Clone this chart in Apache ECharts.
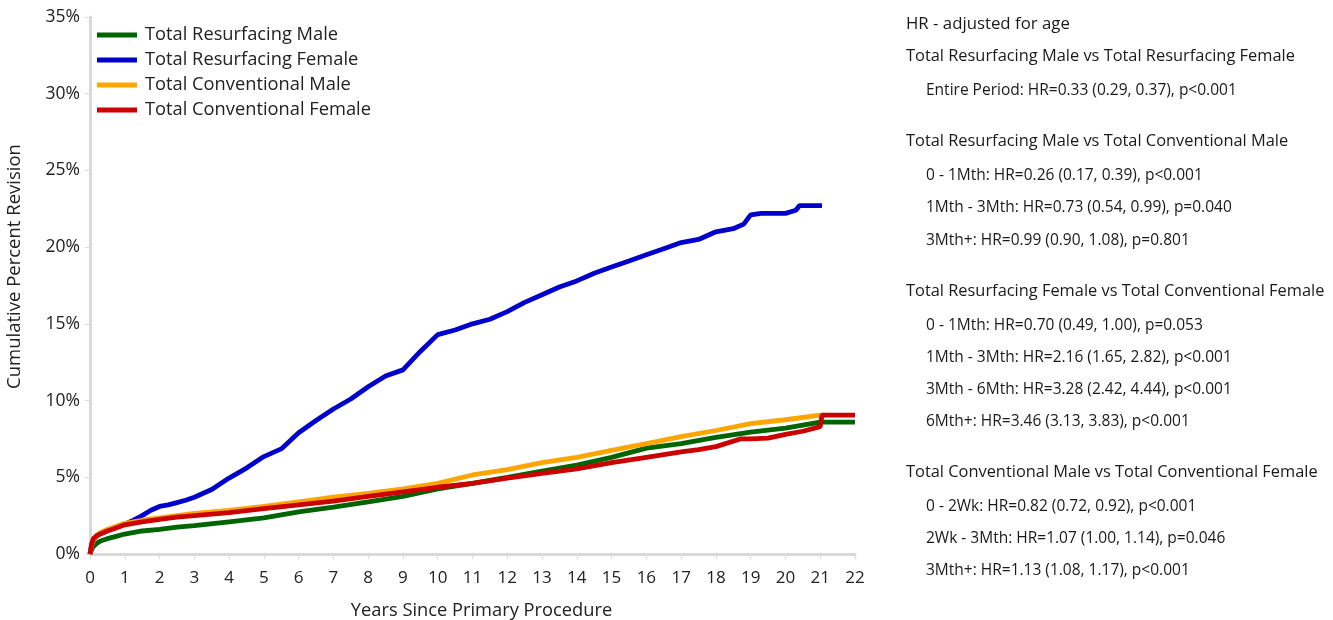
<!DOCTYPE html>
<html>
<head>
<meta charset="utf-8">
<script src="https://cdn.jsdelivr.net/npm/echarts@6/dist/echarts.min.js"></script>
<style>
html,body{margin:0;padding:0;background:#fff;}
#chart{width:1333px;height:620px;}
</style>
</head>
<body>
<div id="chart"></div>
<script>
// ---- Data (years since primary procedure, cumulative percent revision) ----
const seriesNames = ["Total Resurfacing Male", "Total Resurfacing Female", "Total Conventional Male", "Total Conventional Female"];

const resMaleX = [0, 0.05, 0.1, 0.2, 0.3, 0.5, 0.75, 1, 1.5, 2, 2.5, 3, 4, 5, 6, 7, 8, 9, 10, 11, 12, 13, 14, 15, 16, 17, 18, 19, 20, 20.5, 21, 21.1, 22];
const resMaleY = [0, 0.3, 0.5, 0.7, 0.85, 1.0, 1.15, 1.3, 1.5, 1.6, 1.75, 1.85, 2.1, 2.35, 2.75, 3.05, 3.4, 3.75, 4.25, 4.6, 5.0, 5.4, 5.8, 6.3, 6.9, 7.2, 7.6, 7.95, 8.2, 8.4, 8.6, 8.6, 8.6];

const resFemaleX = [0, 0.05, 0.1, 0.2, 0.3, 0.5, 0.75, 1, 1.25, 1.5, 1.75, 2, 2.25, 2.5, 2.75, 3, 3.5, 4, 4.5, 5, 5.5, 6, 6.5, 7, 7.5, 8, 8.5, 9, 9.5, 10, 10.5, 11, 11.5, 12, 12.5, 13, 13.5, 14, 14.5, 15, 15.5, 16, 16.5, 17, 17.5, 18, 18.5, 18.8, 19.0, 19.3, 20.0, 20.3, 20.4, 21.05];
const resFemaleY = [0, 0.6, 0.9, 1.2, 1.35, 1.55, 1.75, 1.95, 2.2, 2.5, 2.85, 3.1, 3.2, 3.35, 3.5, 3.7, 4.2, 4.95, 5.6, 6.35, 6.85, 7.9, 8.7, 9.45, 10.1, 10.9, 11.6, 12.0, 13.2, 14.3, 14.6, 15.0, 15.3, 15.8, 16.4, 16.9, 17.4, 17.8, 18.3, 18.7, 19.1, 19.5, 19.9, 20.3, 20.5, 21.0, 21.2, 21.5, 22.1, 22.2, 22.2, 22.4, 22.7, 22.7];

const convMaleX = [0, 0.05, 0.1, 0.2, 0.3, 0.5, 0.75, 1, 1.5, 2, 2.5, 3, 4, 5, 6, 7, 8, 9, 10, 11, 12, 13, 14, 15, 16, 17, 18, 19, 20, 21, 21.15];
const convMaleY = [0, 0.6, 0.9, 1.2, 1.4, 1.6, 1.8, 2.0, 2.2, 2.35, 2.5, 2.65, 2.85, 3.1, 3.4, 3.7, 3.95, 4.25, 4.6, 5.15, 5.5, 5.95, 6.3, 6.75, 7.2, 7.65, 8.05, 8.5, 8.75, 9.05, 9.05];

const convFemaleX = [0, 0.05, 0.1, 0.2, 0.3, 0.5, 0.75, 1, 1.5, 2, 2.5, 3, 4, 5, 6, 7, 8, 9, 10, 11, 12, 13, 14, 15, 16, 17, 17.5, 18, 18.7, 19, 19.5, 20, 20.5, 21, 21.05, 22];
const convFemaleY = [0, 0.7, 1.0, 1.2, 1.3, 1.5, 1.7, 1.9, 2.1, 2.25, 2.4, 2.5, 2.7, 2.95, 3.2, 3.45, 3.75, 4.05, 4.35, 4.6, 4.95, 5.25, 5.55, 5.95, 6.3, 6.65, 6.8, 7.0, 7.5, 7.5, 7.55, 7.8, 8.0, 8.3, 9.05, 9.05];

const xTicks = {min: 0, max: 22, interval: 1};
const yTicks = {min: 0, max: 35, interval: 5};

const hrLines = [
  {text: "HR - adjusted for age", kind: "note", y: 22},
  {text: "Total Resurfacing Male vs Total Resurfacing Female", kind: "head", y: 55},
  {text: "Entire Period: HR=0.33 (0.29, 0.37), p<0.001", kind: "item", y: 88},
  {text: "Total Resurfacing Male vs Total Conventional Male", kind: "head", y: 140},
  {text: "0 - 1Mth: HR=0.26 (0.17, 0.39), p<0.001", kind: "item", y: 173},
  {text: "1Mth - 3Mth: HR=0.73 (0.54, 0.99), p=0.040", kind: "item", y: 205},
  {text: "3Mth+: HR=0.99 (0.90, 1.08), p=0.801", kind: "item", y: 238},
  {text: "Total Resurfacing Female vs Total Conventional Female", kind: "head", y: 290},
  {text: "0 - 1Mth: HR=0.70 (0.49, 1.00), p=0.053", kind: "item", y: 323},
  {text: "1Mth - 3Mth: HR=2.16 (1.65, 2.82), p<0.001", kind: "item", y: 355},
  {text: "3Mth - 6Mth: HR=3.28 (2.42, 4.44), p<0.001", kind: "item", y: 387},
  {text: "6Mth+: HR=3.46 (3.13, 3.83), p<0.001", kind: "item", y: 419},
  {text: "Total Conventional Male vs Total Conventional Female", kind: "head", y: 471},
  {text: "0 - 2Wk: HR=0.82 (0.72, 0.92), p<0.001", kind: "item", y: 504},
  {text: "2Wk - 3Mth: HR=1.07 (1.00, 1.14), p=0.046", kind: "item", y: 536},
  {text: "3Mth+: HR=1.13 (1.08, 1.17), p<0.001", kind: "item", y: 568}
];

const colors = ["#006400", "#0000CC", "#FFA500", "#CC0000"];
// ---- Build ----
const pairs = (xs, ys) => xs.map((x, i) => [x, ys[i]]);
const seriesData = [
  pairs(resMaleX, resMaleY),
  pairs(resFemaleX, resFemaleY),
  pairs(convMaleX, convMaleY),
  pairs(convFemaleX, convFemaleY)
];

const FONT = "Open Sans";
const styleFor = {
  note: {fontSize: 16.8, left: 906},
  head: {fontSize: 16.4, left: 906},
  item: {fontSize: 15.5, left: 926}
};

const chart = echarts.init(document.getElementById('chart'), null, {renderer: 'canvas'});
chart.setOption({
  animation: false,
  backgroundColor: '#ffffff',
  color: colors,
  grid: {left: 90, right: 478, top: 17, bottom: 66, containLabel: false, outerBoundsMode: 'none'},
  legend: {
    data: seriesNames,
    orient: 'vertical',
    left: 92,
    top: 20,
    itemWidth: 40,
    itemHeight: 5,
    itemGap: 5,
    icon: 'rect',
    textStyle: {fontFamily: FONT, fontSize: 18.3, color: '#222', lineHeight: 20, padding: [0, 0, 0, 3]}
  },
  xAxis: {
    type: 'value',
    min: xTicks.min, max: xTicks.max, interval: xTicks.interval,
    name: 'Years Since Primary Procedure',
    nameLocation: 'middle',
    nameGap: 48,
    nameTextStyle: {fontFamily: FONT, fontSize: 18.3, color: '#222', padding: [0, 0, 0, 18]},
    axisLine: {show: true, lineStyle: {color: '#d9d9d9', width: 3}},
    axisTick: {show: true, length: 5, lineStyle: {color: '#d9d9d9', width: 1}},
    axisLabel: {fontFamily: FONT, fontSize: 17, color: '#222', margin: 16},
    splitLine: {show: false}
  },
  yAxis: {
    type: 'value',
    min: yTicks.min, max: yTicks.max, interval: yTicks.interval,
    name: 'Cumulative Percent Revision',
    nameLocation: 'middle',
    nameGap: 66,
    nameTextStyle: {fontFamily: FONT, fontSize: 18.5, color: '#222', padding: [0, 0, 0, 38]},
    axisLine: {show: true, lineStyle: {color: '#d9d9d9', width: 3}},
    axisTick: {show: true, length: 5, lineStyle: {color: '#d9d9d9', width: 1}},
    axisLabel: {fontFamily: FONT, fontSize: 17.5, color: '#222', margin: 10, formatter: '{value}%'},
    splitLine: {show: false}
  },
  series: seriesNames.map((name, i) => ({
    name: name,
    type: 'line',
    data: seriesData[i],
    showSymbol: false,
    symbol: 'none',
    lineStyle: {width: 4.8, color: colors[i]},
    itemStyle: {color: colors[i]},
    z: 2 + i
  })),
  graphic: hrLines.map(l => ({
    type: 'text',
    left: styleFor[l.kind].left,
    top: l.y - styleFor[l.kind].fontSize * 0.7 + 5,
    style: {
      text: l.text,
      fontFamily: FONT,
      fontSize: styleFor[l.kind].fontSize,
      fill: '#1a1a1a'
    }
  }))
});
</script>
</body>
</html>
